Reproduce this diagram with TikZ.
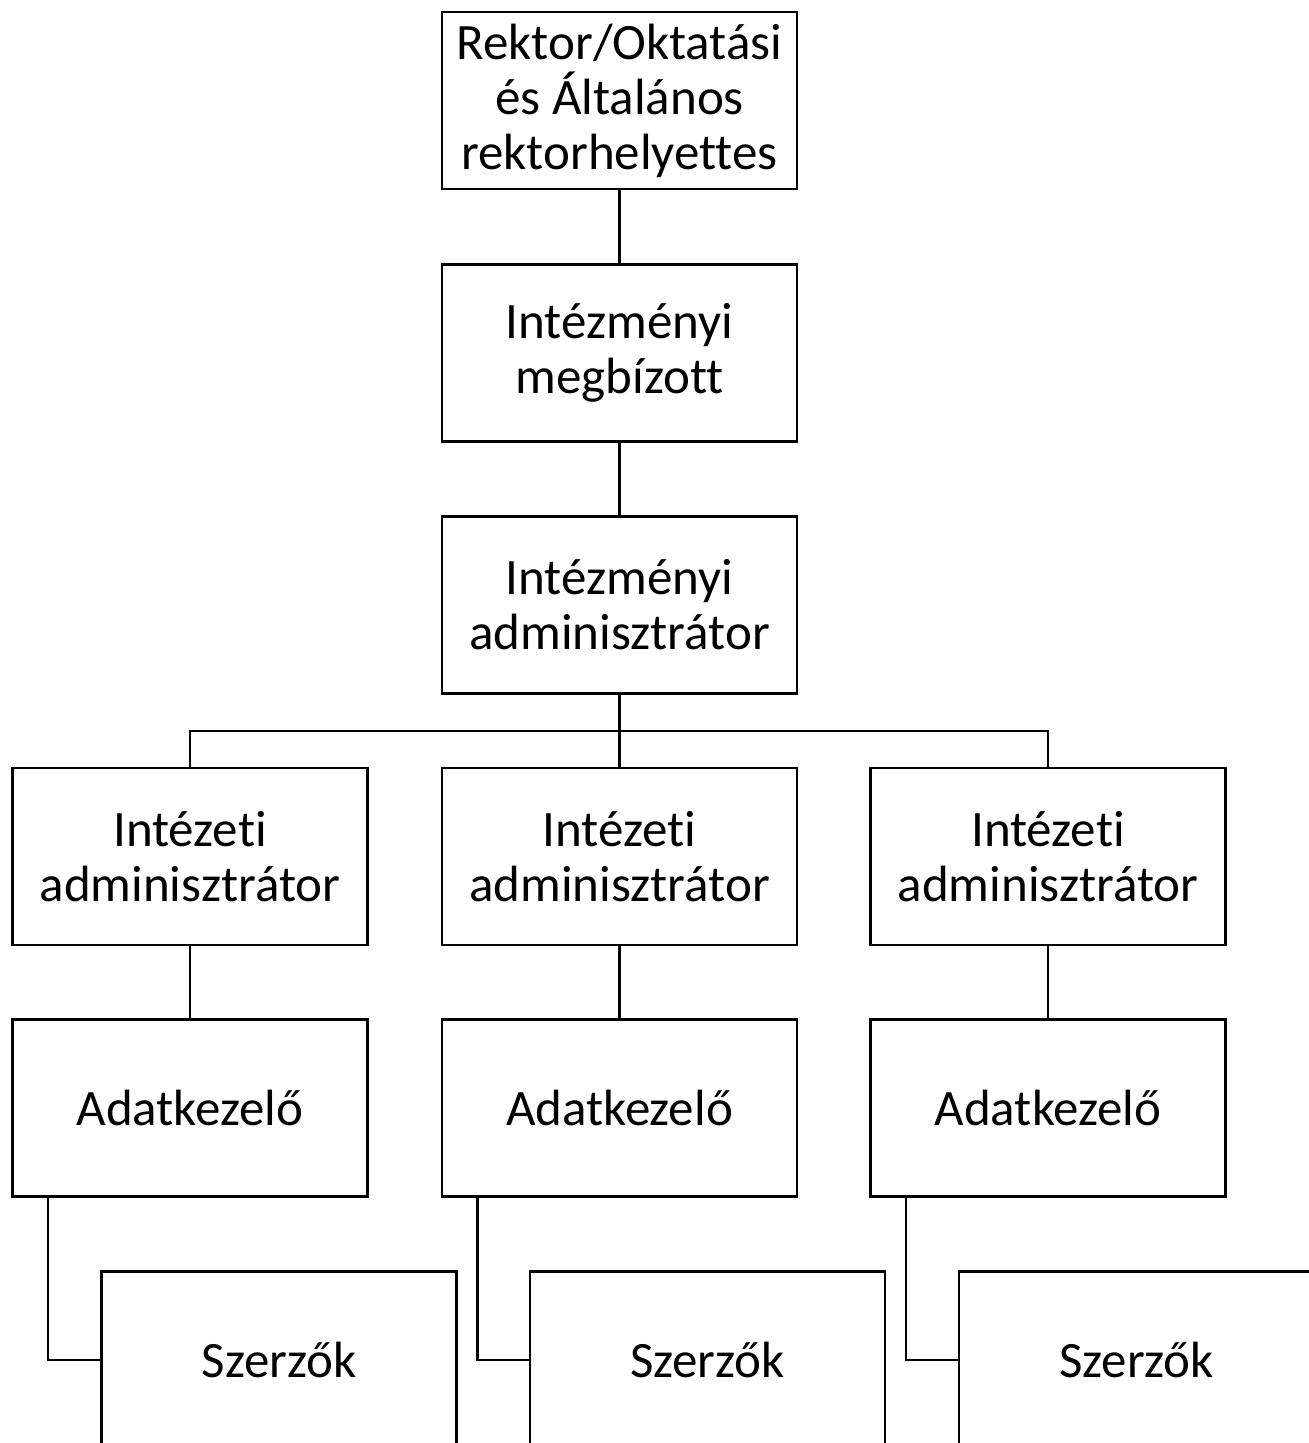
\documentclass[tikz,border=0pt]{standalone}
\usepackage{fontspec}
\setmainfont{Carlito}[Ligatures=NoCommon]
\usetikzlibrary{calc}
\begin{document}
\begin{tikzpicture}[x=0.5pt,y=-0.5pt,
  box/.style={draw=black, line width=1.3pt, rectangle, minimum width=177.5pt, minimum height=88.5pt,
    inner sep=0pt, outer sep=0pt, align=center, font=\fontsize{25.5}{27.5}\selectfont},
  conn/.style={draw=black, line width=1.1pt}]
\clip (0,0) rectangle (1309,1443);
\fill[white] (0,0) rectangle (1309,1443);
% main column
\node[box] (rek) at (619.5,100.5) {Rektor/Oktatási\\és Általános\\rektorhelyettes};
\node[box] (meg) at (619.5,353) {Intézményi\\megbízott};
\node[box] (adm) at (619.5,605) {Intézményi\\adminisztrátor};
% institute admins
\node[box] (ia1) at (190,856.5) {Intézeti\\adminisztrátor};
\node[box] (ia2) at (619.5,856.5) {Intézeti\\adminisztrátor};
\node[box] (ia3) at (1048,856.5) {Intézeti\\adminisztrátor};
% data handlers
\node[box] (ak1) at (190,1108) {Adatkezelő};
\node[box] (ak2) at (619.5,1108) {Adatkezelő};
\node[box] (ak3) at (1048,1108) {Adatkezelő};
% authors
\node[box] (sz1) at (279,1360) {Szerzők};
\node[box] (sz2) at (707.5,1360) {Szerzők};
\node[box] (sz3) at (1136.5,1360) {Szerzők};
\coordinate (busY) at (0,731);
% connectors
\draw[conn] (rek.south) -- (meg.north);
\draw[conn] (meg.south) -- (adm.north);
\draw[conn] (adm.south) -- (ia2.north);
\draw[conn] (ia1.north) -- (ia1.north |- busY) -- (ia3.north |- busY) -- (ia3.north);
\draw[conn] (ia1.south) -- (ak1.north);
\draw[conn] (ia2.south) -- (ak2.north);
\draw[conn] (ia3.south) -- (ak3.north);
\draw[conn] ($(ak1.south west)!0.1!(ak1.south east)$) |- (sz1.west);
\draw[conn] ($(ak2.south west)!0.1!(ak2.south east)$) |- (sz2.west);
\draw[conn] ($(ak3.south west)!0.1!(ak3.south east)$) |- (sz3.west);
\end{tikzpicture}
\end{document}
